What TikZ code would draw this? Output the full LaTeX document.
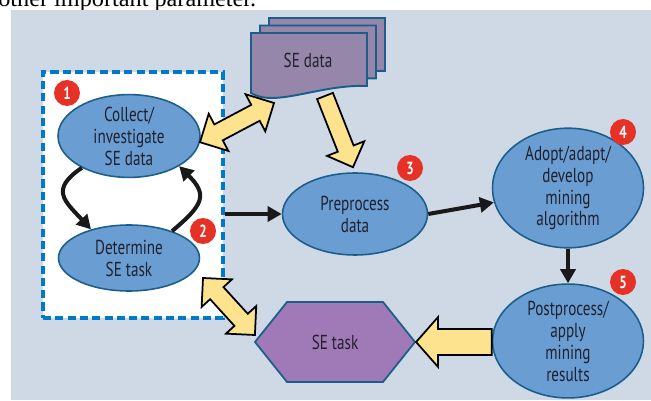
\documentclass[tikz,border=0pt]{standalone}
\usepackage{fontspec}
\setmainfont[FakeStretch=0.75]{PT Sans}
\newfontfamily\pagefont{Liberation Serif}
\usetikzlibrary{shapes,arrows.meta,positioning,calc}

\definecolor{panelgray}{RGB}{207,217,229}
\definecolor{bubbleblue}{RGB}{106,158,210}
\definecolor{edgeblue}{RGB}{27,94,140}
\definecolor{dashblue}{RGB}{0,122,200}
\definecolor{badgered}{RGB}{229,49,38}
\definecolor{hexpurple}{RGB}{160,122,182}
\definecolor{docpurple}{RGB}{150,135,170}
\definecolor{arrowyellow}{RGB}{253,227,142}
\definecolor{inkgray}{RGB}{32,32,46}

% yellow block arrow: from, to, shaft half width, head half width, head length
\newcommand{\blockarrow}[5]{%
  \path ($(#2)!#5!(#1)$) coordinate (headtwo);
  \draw[yellowblock] ($(#1)!#3!90:(#2)$) -- ($(headtwo)!#3!90:(#2)$)
    -- ($(headtwo)!#4!90:(#2)$) -- (#2) -- ($(headtwo)!#4!-90:(#2)$)
    -- ($(headtwo)!#3!-90:(#2)$) -- ($(#1)!#3!-90:(#2)$) -- cycle;}
\newcommand{\doubleblockarrow}[5]{%
  \path ($(#1)!#5!(#2)$) coordinate (headone) ($(#2)!#5!(#1)$) coordinate (headtwo);
  \draw[yellowblock] (#1) -- ($(headone)!#4!90:(#2)$) -- ($(headone)!#3!90:(#2)$)
    -- ($(headtwo)!#3!90:(#2)$) -- ($(headtwo)!#4!90:(#2)$) -- (#2)
    -- ($(headtwo)!#4!-90:(#2)$) -- ($(headtwo)!#3!-90:(#2)$)
    -- ($(headone)!#3!-90:(#2)$) -- ($(headone)!#4!-90:(#2)$) -- cycle;}

\begin{document}
\begin{tikzpicture}[x=0.02cm, y=-0.02cm]
  \tikzstyle{bubble} = [ellipse, fill=bubbleblue, draw=edgeblue, line width=0.9pt, inner sep=0pt, align=center, text=inkgray, font=\fontsize{11.5}{12.5}\selectfont]
  \tikzstyle{badge} = [circle, fill=badgered, minimum size=0.52cm, inner sep=0pt, text=white, font=\fontsize{10}{10}\selectfont\bfseries]
  \tikzstyle{flow} = [line width=2.3pt, -{Triangle[length=8pt,width=8.5pt]}, color=black!90]
  \tikzstyle{yellowblock} = [fill=arrowyellow, draw=black, line width=1pt, line join=miter]
  \tikzstyle{docpage} = [fill=docpurple, draw=edgeblue, line width=1.1pt]

  \useasboundingbox (0,0) rectangle (651,401);
  \clip (0,0) rectangle (651,401);

  % Page text above the figure
  \node[anchor=base west, inner sep=0pt, font=\pagefont\fontsize{13.8}{14}\selectfont] (pagetext) at (-2,7) {other important parameter.};

  % Panel
  \fill[panelgray] (11,10) rectangle (651,400);

  % Loop box
  \node[draw=dashblue, fill=white, line width=1.8pt, dash pattern=on 4.6pt off 2.4pt, minimum width=3.6cm, minimum height=4.92cm, inner sep=0pt] (loop) at (133,195) {};

  % SE data stack
  \foreach \dx/\dy in {18/-15, 9/-7.5, 0/0}
    \draw[docpage, shift={(\dx,\dy)}] (251,33) -- (367,33) -- (367,86) .. controls (320,84) and (275,108) .. (251,93) -- cycle;
  \node[text=inkgray, font=\fontsize{11.5}{12.5}\selectfont] (data) at (308,60) {SE data};

  % Process steps
  \node[bubble, minimum width=2.84cm, minimum height=1.64cm] (collect) at (129,136) {Collect/\\investigate\\SE data};
  \node[bubble, minimum width=2.82cm, minimum height=1.32cm] (determine) at (129,258) {Determine\\SE task};
  \node[bubble, minimum width=2.9cm, minimum height=1.64cm] (preprocess) at (355,214) {Preprocess\\data};
  \node[bubble, minimum width=3.02cm, minimum height=2.14cm] (adopt) at (568,188) {Adopt/adapt/\\develop\\mining\\algorithm};
  \node[bubble, minimum width=3.02cm, minimum height=2.24cm] (postprocess) at (568,341) {Postprocess/\\apply\\mining\\results};
  \node[signal, signal to=west and east, signal pointer angle=102.7, fill=hexpurple, draw=edgeblue, line width=1pt, minimum width=3.2cm, minimum height=1.6cm, inner sep=0pt, text=inkgray, font=\fontsize{11.5}{12.5}\selectfont] (task) at (335,342) {SE task};

  % Black arrows
  \draw[flow] (collect.214) to[out=214, in=133, looseness=1.6] (determine.143);
  \draw[flow] (determine.32) to[out=40, in=-45, looseness=1.6] (collect.-31);
  \draw[flow] (loop.east |- preprocess.west) -- (preprocess.west);
  \draw[flow] (preprocess.east) -- (adopt.191);
  \draw[flow] (adopt.south) -- (postprocess.north);

  % Yellow arrows
  \coordinate (dataleft) at (274,103);
  \coordinate (databottom) at (325,96);
  \coordinate (preprocesstop) at ($(preprocess.north)+(-2,-5)$);
  \coordinate (determineright) at (203,278);
  \coordinate (taskleft) at ($(task.west)+(1,-7)$);
  \doubleblockarrow{collect.-5}{dataleft}{0.18cm}{0.42cm}{0.42cm}
  \blockarrow{databottom}{preprocesstop}{0.17cm}{0.4cm}{0.4cm}
  \doubleblockarrow{determineright}{taskleft}{0.18cm}{0.41cm}{0.41cm}
  \blockarrow{postprocess.west |- task.east}{task.east}{0.26cm}{0.5cm}{0.44cm}

  % Step numbers
  \node[badge] (b1) at (67,93) {1};
  \node[badge] (b2) at (203,231) {2};
  \node[badge] (b3) at (410,168) {3};
  \node[badge] (b4) at (623,132) {4};
  \node[badge] (b5) at (623,282) {5};
\end{tikzpicture}
\end{document}
